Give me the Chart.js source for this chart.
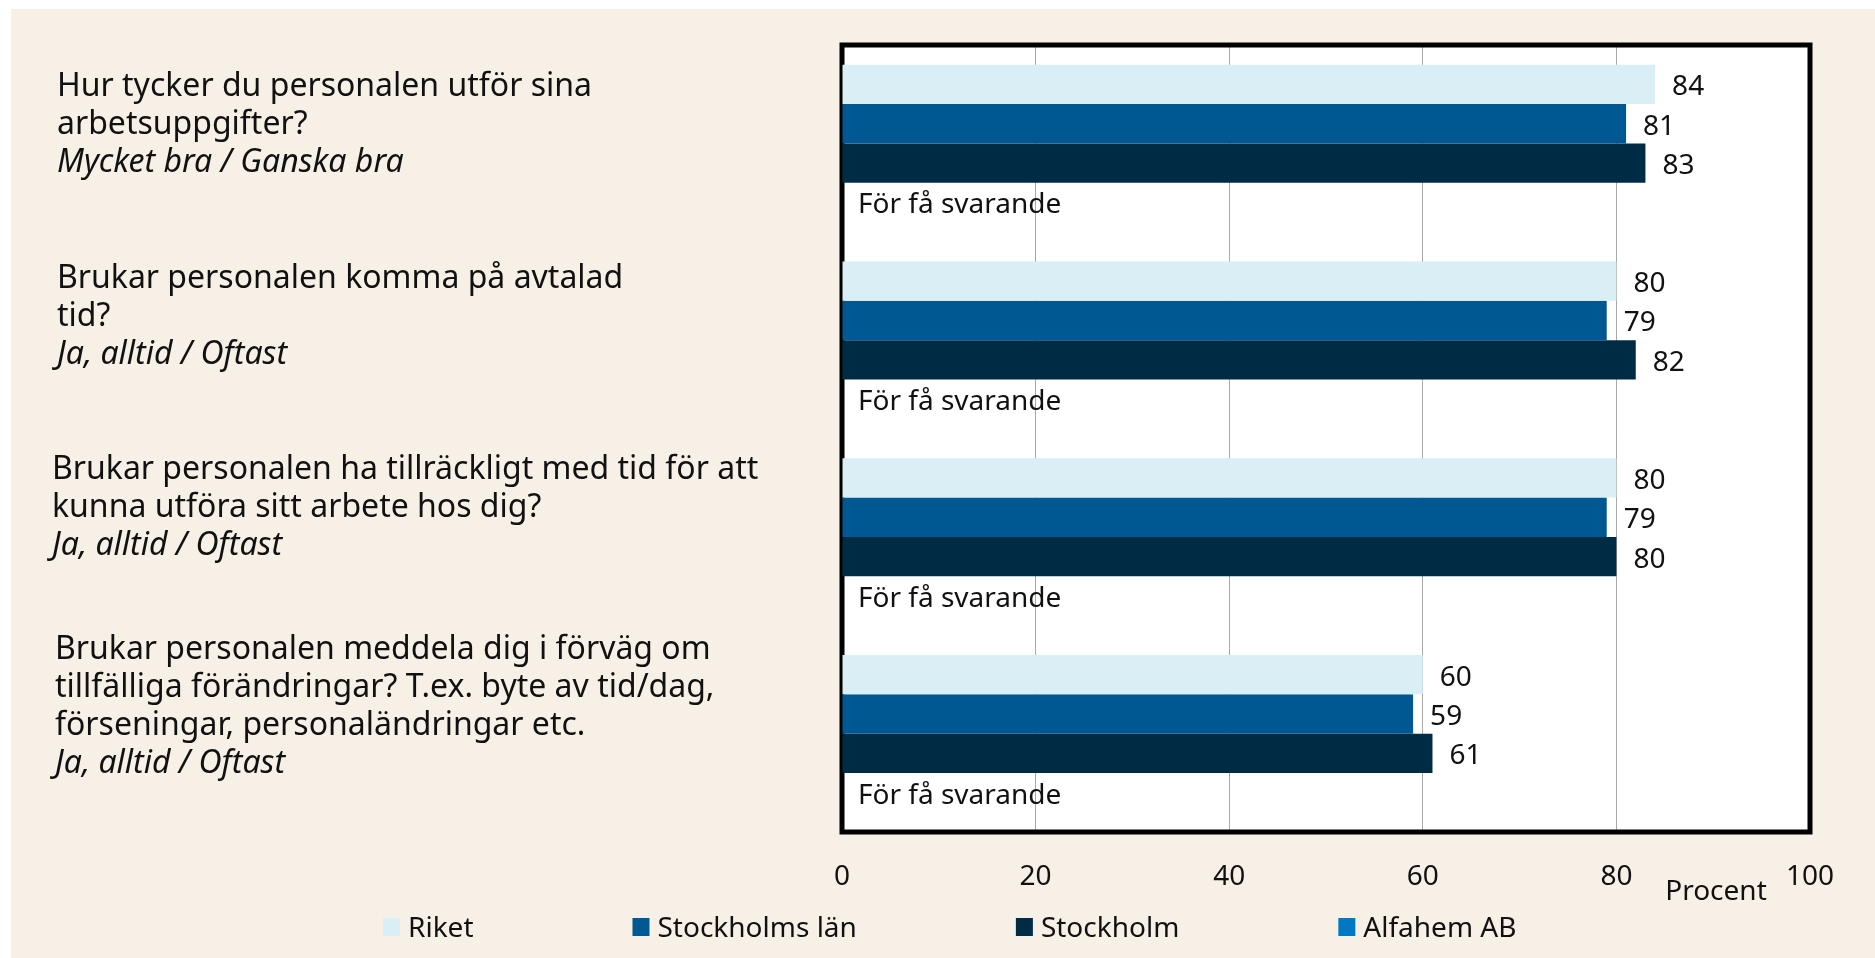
<!DOCTYPE html>
<html>
<head>
<meta charset="utf-8">
<script src="https://cdn.jsdelivr.net/npm/chart.js@4"></script>
<style>
  html, body { margin: 0; padding: 0; background: #fff; }
  .panel { position: absolute; left: 11px; top: 9px; right: 0; bottom: 0; background: #f7f0e7; }
  #chart { position: absolute; left: 0; top: 0; }
</style>
</head>
<body>
<div class="panel"></div>
<canvas id="chart" width="1875" height="958"></canvas>
<script>
// frågor, svarsalternativ och värden (procent)
const questions = [
  ["Hur tycker du personalen utför sina", "arbetsuppgifter?"],
  ["Brukar personalen komma på avtalad", "tid?"],
  ["Brukar personalen ha tillräckligt med tid för att", "kunna utföra sitt arbete hos dig?"],
  ["Brukar personalen meddela dig i förväg om", "tillfälliga förändringar? T.ex. byte av tid/dag,", "förseningar, personaländringar etc."]
];
const answers = ["Mycket bra / Ganska bra", "Ja, alltid / Oftast", "Ja, alltid / Oftast", "Ja, alltid / Oftast"];
const riket = [84, 80, 80, 60];
const stockholmsLan = [81, 79, 79, 59];
const stockholm = [83, 82, 80, 61];
const alfahem = [null, null, null, null];
const xTicks = [0, 20, 40, 60, 80, 100];
const tooFew = "För få svarande";
const unitLabel = "Procent";

const FONT = "'Noto Sans', 'Open Sans', sans-serif";
// små justeringar av frågetexternas läge (px)
const labelNudge = [6, 1, -5, -3];
const labelX = [57, 57, 52, 55];

// etiketter, värden, ram och förklaring ritas här
const extras = {
  id: "extras",
  beforeDraw(chart) {
    const a = chart.chartArea, ctx = chart.ctx;
    ctx.save();
    ctx.fillStyle = "#fff";
    ctx.fillRect(a.left, a.top, a.right - a.left, a.bottom - a.top);
    ctx.restore();
  },
  beforeDatasetsDraw(chart) {
    const a = chart.chartArea, ctx = chart.ctx;
    ctx.save();
    ctx.strokeStyle = "#000";
    ctx.lineWidth = 5;
    ctx.strokeRect(a.left, a.top, a.right - a.left, a.bottom - a.top);
    ctx.restore();
  },
  afterDraw(chart) {
    const ctx = chart.ctx, a = chart.chartArea, y = chart.scales.y;
    ctx.save();
    ctx.fillStyle = "#111";

    // frågetexter till vänster
    questions.forEach((lines, i) => {
      const all = lines.concat([answers[i]]);
      const cy = y.getPixelForValue(i);
      let base = cy - 15 + labelNudge[i] - (all.length - 1) * 38 / 2;
      all.forEach((t, k) => {
        ctx.font = (k === all.length - 1 ? "italic " : "") + "32px " + FONT;
        ctx.textAlign = "left";
        ctx.textBaseline = "alphabetic";
        ctx.fillText(t, labelX[i], base + k * 38);
      });
    });

    // värdeetiketter
    ctx.font = "28px " + FONT;
    ctx.textAlign = "left";
    const metas = chart.data.datasets.map((d, i) => chart.getDatasetMeta(i));
    for (let i = 0; i < questions.length; i++) {
      metas.forEach((m, di) => {
        const el = m.data[i];
        const v = chart.data.datasets[di].data[i];
        if (v == null) {
          const prev = metas[di - 1].data[i];
          const by = prev.y + prev.height;
          ctx.fillText(tooFew, a.left + 16, by + 11);
        } else {
          ctx.fillText(String(v), el.x + 17, el.y + 11);
        }
      });
    }

    // enhet
    ctx.textAlign = "center";
    ctx.fillText(unitLabel, a.right - 94, 900);

    // förklaring
    ctx.font = "28px " + FONT;
    ctx.textAlign = "left";
    let lx = 383;
    chart.data.datasets.forEach(d => {
      ctx.fillStyle = d.backgroundColor;
      ctx.fillRect(lx, 918, 17, 18);
      ctx.fillStyle = "#111";
      ctx.fillText(d.label, lx + 25, 937);
      lx += 25 + ctx.measureText(d.label).width + 159;
    });
    ctx.restore();
  }
};

new Chart(document.getElementById("chart"), {
  type: "bar",
  data: {
    labels: questions.map(q => q.join(" ")),
    datasets: [
      { label: "Riket", data: riket, backgroundColor: "#daeef6" },
      { label: "Stockholms län", data: stockholmsLan, backgroundColor: "#005892" },
      { label: "Stockholm", data: stockholm, backgroundColor: "#002b45" },
      { label: "Alfahem AB", data: alfahem, backgroundColor: "#0079c2" }
    ]
  },
  options: {
    indexAxis: "y",
    responsive: false,
    animation: false,
    devicePixelRatio: 1,
    layout: { padding: { left: 842, right: 65, top: 45, bottom: 0 } },
    datasets: {
      bar: {
        categoryPercentage: 0.8,
        barPercentage: 1,
        borderWidth: 0
      }
    },
    plugins: {
      legend: { display: false },
      tooltip: { enabled: false }
    },
    scales: {
      y: { display: false },
      x: {
        min: 0,
        max: 100,
        z: 1,
        afterFit(s) { s.height = 126; },
        afterBuildTicks(s) { s.ticks = xTicks.map(v => ({ value: v })); },
        grid: {
          color: ctx => (ctx.tick && (ctx.tick.value === 0 || ctx.tick.value === 100)) ? "rgba(0,0,0,0)" : "rgba(110,110,110,0.6)",
          lineWidth: 1,
          drawTicks: false
        },
        border: { display: false },
        ticks: {
          padding: 28,
          color: "#111",
          font: { family: FONT, size: 28 }
        }
      }
    }
  },
  plugins: [extras]
});
</script>
</body>
</html>
